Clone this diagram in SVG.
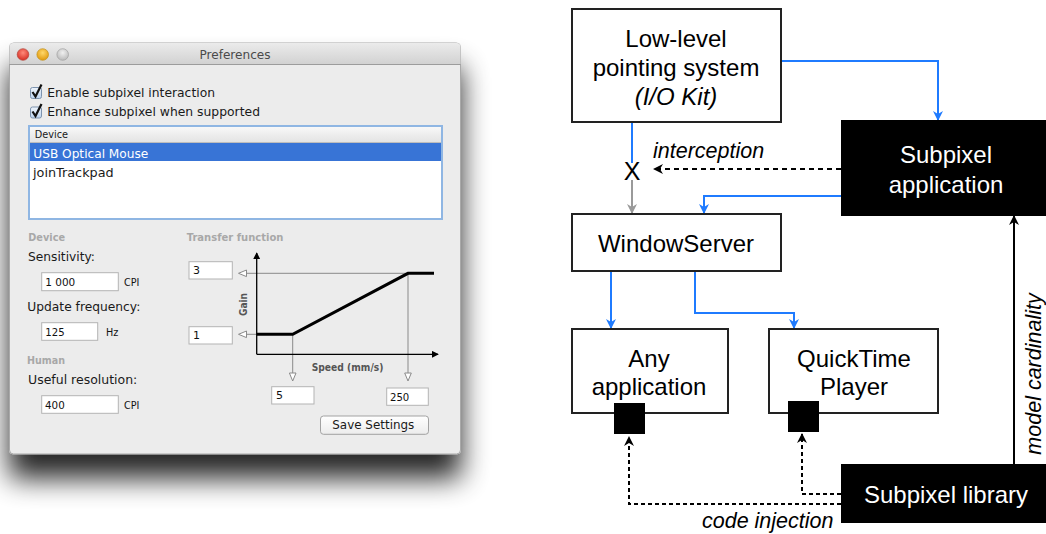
<svg xmlns="http://www.w3.org/2000/svg" width="1046" height="534" viewBox="0 0 1046 534">
<defs>
<style>
.ui{font-family:"DejaVu Sans","Liberation Sans",sans-serif;fill:#1a1a1a}
.sec{font-family:"DejaVu Sans","Liberation Sans",sans-serif;font-weight:bold;font-size:10.5px;fill:#a8a8a8}
.fld{fill:#fff;stroke:#b3b3b3;stroke-width:1}
.ftx{font-family:"DejaVu Sans","Liberation Sans",sans-serif;font-size:11px;fill:#111}
.box{fill:#fff;stroke:#222;stroke-width:2}
.blk{fill:#000;stroke:#000;stroke-width:2}
.lbl{font-family:"Liberation Sans",Arial,sans-serif;font-size:24px;fill:#000;text-anchor:middle}
.it{font-family:"Liberation Sans",Arial,sans-serif;font-size:21.5px;font-style:italic;fill:#000}
.blue{fill:none;stroke:#1f7bff;stroke-width:2}
.gray{fill:none;stroke:#9a9a9a;stroke-width:2}
.dash{fill:none;stroke:#000;stroke-width:2;stroke-dasharray:5 4}
.solid{fill:none;stroke:#000;stroke-width:2}
.gl{fill:none;stroke:#8a8a8a;stroke-width:1}
.tri{fill:#fff;stroke:#8a8a8a;stroke-width:1}
</style>
<marker id="aBlue" viewBox="0 0 10 10" refX="9" refY="5" markerWidth="10" markerHeight="10" markerUnits="userSpaceOnUse" orient="auto"><path d="M0,0 L10,5 L0,10 L3,5 z" fill="#1f7bff"/></marker>
<marker id="aGray" viewBox="0 0 10 10" refX="9" refY="5" markerWidth="10" markerHeight="10" markerUnits="userSpaceOnUse" orient="auto"><path d="M0,0 L10,5 L0,10 L3,5 z" fill="#9a9a9a"/></marker>
<marker id="aBlack" viewBox="0 0 10 10" refX="9" refY="5" markerWidth="10" markerHeight="10" markerUnits="userSpaceOnUse" orient="auto"><path d="M0,0 L10,5 L0,10 L3,5 z" fill="#000"/></marker>
<marker id="aAxis" viewBox="0 0 8 8" refX="7" refY="4" markerWidth="7" markerHeight="7" markerUnits="userSpaceOnUse" orient="auto"><path d="M0,0 L8,4 L0,8 z" fill="#000"/></marker>
<linearGradient id="tb" x1="0" y1="0" x2="0" y2="1"><stop offset="0" stop-color="#ebebeb"/><stop offset="1" stop-color="#d2d2d2"/></linearGradient>
<linearGradient id="hdr" x1="0" y1="0" x2="0" y2="1"><stop offset="0" stop-color="#f8f8f8"/><stop offset="1" stop-color="#e2e2e2"/></linearGradient>
<linearGradient id="btn" x1="0" y1="0" x2="0" y2="1"><stop offset="0" stop-color="#ffffff"/><stop offset="1" stop-color="#ececec"/></linearGradient>
<linearGradient id="chk" x1="0" y1="0" x2="0" y2="1"><stop offset="0" stop-color="#eef4fb"/><stop offset="1" stop-color="#bcd3ee"/></linearGradient>
<radialGradient id="red" cx="0.5" cy="0.35" r="0.6"><stop offset="0" stop-color="#ff8a7a"/><stop offset="1" stop-color="#d9352a"/></radialGradient>
<radialGradient id="yel" cx="0.5" cy="0.35" r="0.6"><stop offset="0" stop-color="#ffd86a"/><stop offset="1" stop-color="#e39d12"/></radialGradient>
<radialGradient id="gry" cx="0.5" cy="0.35" r="0.6"><stop offset="0" stop-color="#f0f0f0"/><stop offset="1" stop-color="#bdbdbd"/></radialGradient>
<filter id="shadow" x="-20%" y="-20%" width="140%" height="150%">
<feGaussianBlur in="SourceAlpha" stdDeviation="14"/>
<feOffset dy="24" result="b"/>
<feComponentTransfer in="b" result="s"><feFuncA type="linear" slope="0.85"/></feComponentTransfer>
<feMerge><feMergeNode in="s"/><feMergeNode in="SourceGraphic"/></feMerge>
</filter>
</defs>
<rect width="1046" height="534" fill="#fff"/>

<!-- Left: Preferences window screenshot -->
<g id="prefs-window">
<rect x="9.5" y="43" width="451" height="411" rx="4" fill="#ececec" stroke="#a9a9a9" filter="url(#shadow)"/>
<path d="M9.5,64 V47 a4,4 0 0 1 4,-4 H456.5 a4,4 0 0 1 4,4 V64 Z" fill="url(#tb)"/>
<line x1="9.5" y1="64.5" x2="460.5" y2="64.5" stroke="#9c9c9c"/>
<circle cx="23" cy="54.5" r="5.8" fill="url(#red)" stroke="#b0443a" stroke-width="0.7"/>
<circle cx="42.7" cy="54.5" r="5.8" fill="url(#yel)" stroke="#c0901c" stroke-width="0.7"/>
<circle cx="62.7" cy="54.5" r="5.8" fill="url(#gry)" stroke="#a0a0a0" stroke-width="0.7"/>
<text x="235" y="58.5" class="ui" font-size="13" text-anchor="middle" style="fill:#4a4a4a" textLength="71" lengthAdjust="spacingAndGlyphs">Preferences</text>

<rect x="30.5" y="87.5" width="11" height="11" rx="2" fill="url(#chk)" stroke="#7d93ae"/>
<path d="M32.5,92 L35.5,96.5 L41.5,84.5" fill="none" stroke="#111" stroke-width="2.2"/>
<text x="47.3" y="96.7" class="ui" font-size="12.3" textLength="167.7" lengthAdjust="spacingAndGlyphs">Enable subpixel interaction</text>
<rect x="30.5" y="107" width="11" height="11" rx="2" fill="url(#chk)" stroke="#7d93ae"/>
<path d="M32.5,111.5 L35.5,116 L41.5,104" fill="none" stroke="#111" stroke-width="2.2"/>
<text x="47.3" y="116.2" class="ui" font-size="12.3" textLength="212.7" lengthAdjust="spacingAndGlyphs">Enhance subpixel when supported</text>

<rect x="29" y="126" width="413" height="93" fill="#fff" stroke="#8fb6e3" stroke-width="2"/>
<rect x="30" y="127" width="411" height="16" fill="url(#hdr)"/>
<line x1="30" y1="142.5" x2="441" y2="142.5" stroke="#bdbdbd"/>
<text x="34.7" y="137.7" class="ui" font-size="11" textLength="33.3" lengthAdjust="spacingAndGlyphs">Device</text>
<rect x="30" y="143" width="411" height="18" fill="#3874d6"/>
<text x="33.3" y="157.7" class="ui" font-size="12.3" style="fill:#fff" textLength="115" lengthAdjust="spacingAndGlyphs">USB Optical Mouse</text>
<text x="33" y="176.7" class="ui" font-size="12.3" textLength="80.7" lengthAdjust="spacingAndGlyphs">joinTrackpad</text>

<text x="28.3" y="240.5" class="sec" textLength="36.7" lengthAdjust="spacingAndGlyphs">Device</text>
<text x="186.7" y="240.5" class="sec" textLength="96.7" lengthAdjust="spacingAndGlyphs">Transfer function</text>
<text x="28" y="261" class="ui" font-size="12.5" textLength="67" lengthAdjust="spacingAndGlyphs">Sensitivity:</text>
<rect x="41.7" y="272.7" width="76.6" height="18" class="fld"/>
<text x="45.3" y="285.5" class="ftx" textLength="30" lengthAdjust="spacingAndGlyphs">1 000</text>
<text x="124" y="285.5" class="ftx" textLength="15.3" lengthAdjust="spacingAndGlyphs">CPI</text>
<text x="27.3" y="311" class="ui" font-size="12.5" textLength="113" lengthAdjust="spacingAndGlyphs">Update frequency:</text>
<rect x="41.7" y="322.7" width="56" height="17.6" class="fld"/>
<text x="45.3" y="335.5" class="ftx" textLength="19.3" lengthAdjust="spacingAndGlyphs">125</text>
<text x="106" y="335.5" class="ftx" textLength="12.3" lengthAdjust="spacingAndGlyphs">Hz</text>
<text x="27" y="364" class="sec" textLength="38" lengthAdjust="spacingAndGlyphs">Human</text>
<text x="28" y="384" class="ui" font-size="12.5" textLength="109.3" lengthAdjust="spacingAndGlyphs">Useful resolution:</text>
<rect x="41.7" y="395.7" width="76.6" height="17.6" class="fld"/>
<text x="45" y="408.5" class="ftx" textLength="19.7" lengthAdjust="spacingAndGlyphs">400</text>
<text x="124" y="408.5" class="ftx" textLength="15.3" lengthAdjust="spacingAndGlyphs">CPI</text>

<!-- transfer function graph -->
<rect x="189" y="261.7" width="43.3" height="17.3" class="fld"/>
<text x="193" y="274.3" class="ftx">3</text>
<rect x="189" y="326.7" width="43.3" height="17.3" class="fld"/>
<text x="193" y="339.3" class="ftx">1</text>
<line x1="408" y1="273.3" x2="246" y2="273.3" class="gl"/>
<path d="M238.5,273.3 L246.5,270 L246.5,276.6 Z" class="tri"/>
<line x1="292.7" y1="334.3" x2="246" y2="334.3" class="gl"/>
<path d="M238.5,334.3 L246.5,331 L246.5,337.6 Z" class="tri"/>
<line x1="292.7" y1="334.3" x2="292.7" y2="373" class="gl"/>
<path d="M292.7,381 L289.4,373 L296,373 Z" class="tri"/>
<line x1="408" y1="273.3" x2="408" y2="373" class="gl"/>
<path d="M408,381 L404.7,373 L411.3,373 Z" class="tri"/>
<line x1="256.7" y1="354.3" x2="256.7" y2="253" stroke="#000" stroke-width="1.3" marker-end="url(#aAxis)"/>
<line x1="256.7" y1="354.3" x2="438" y2="354.3" stroke="#000" stroke-width="1.3" marker-end="url(#aAxis)"/>
<polyline points="256.7,334.3 292.7,334.3 408,273.3 434,273.3" fill="none" stroke="#000" stroke-width="3"/>
<text transform="translate(246.5,304.5) rotate(-90)" class="ui" font-size="10" text-anchor="middle" style="fill:#555;font-weight:600" textLength="23" lengthAdjust="spacingAndGlyphs">Gain</text>
<text x="311.7" y="370.7" class="ui" font-size="10" style="fill:#555;font-weight:600" textLength="71.7" lengthAdjust="spacingAndGlyphs">Speed (mm/s)</text>
<rect x="271.7" y="386.7" width="42.3" height="17.3" class="fld"/>
<text x="276" y="399.3" class="ftx">5</text>
<rect x="386.7" y="388" width="41.6" height="17.3" class="fld"/>
<text x="390" y="400.7" class="ftx" textLength="19.3" lengthAdjust="spacingAndGlyphs">250</text>
<rect x="320.5" y="416" width="108" height="18.3" rx="3" fill="url(#btn)" stroke="#a2a2a2"/>
<text x="332.3" y="429.3" class="ui" font-size="12.5" textLength="82" lengthAdjust="spacingAndGlyphs">Save Settings</text>
</g>

<!-- Right: architecture diagram -->
<g id="connectors">
<polyline points="781,61 938,61 938,120" class="blue" marker-end="url(#aBlue)"/>
<line x1="632" y1="122" x2="632" y2="163" class="blue"/>
<line x1="632" y1="180" x2="632" y2="213" class="gray" marker-end="url(#aGray)"/>
<line x1="841" y1="169" x2="654" y2="169" class="dash" marker-end="url(#aBlack)"/>
<polyline points="841,196 704,196 704,213" class="blue" marker-end="url(#aBlue)"/>
<line x1="611" y1="271" x2="611" y2="328" class="blue" marker-end="url(#aBlue)"/>
<polyline points="695,271 695,313 794,313 794,328" class="blue" marker-end="url(#aBlue)"/>
<line x1="1014" y1="465" x2="1014" y2="216" class="solid" marker-end="url(#aBlack)"/>
<polyline points="841,504 629,504 629,437" class="dash" style="stroke-dasharray:4 3" marker-end="url(#aBlack)"/>
<polyline points="841,494 802,494 802,434" class="dash" style="stroke-dasharray:4 3" marker-end="url(#aBlack)"/>
<text x="632" y="180" font-family="Liberation Sans, Arial, sans-serif" font-size="25" text-anchor="middle">X</text>
<text x="653" y="158" class="it">interception</text>
<text x="702" y="528" class="it">code injection</text>
<text transform="translate(1041,374) rotate(-90)" class="it" text-anchor="middle">model cardinality</text>
</g>

<g id="low-level">
<rect x="572" y="9" width="209" height="113" class="box"/>
<text x="676" y="47" class="lbl">Low-level</text>
<text x="676" y="76" class="lbl">pointing system</text>
<text x="676" y="105" class="lbl" font-style="italic">(I/O Kit)</text>
</g>
<g id="subpixel-application">
<rect x="842" y="121" width="210" height="94" class="blk"/>
<text x="946" y="163" class="lbl" style="fill:#fff">Subpixel</text>
<text x="946" y="193" class="lbl" style="fill:#fff">application</text>
</g>
<g id="windowserver">
<rect x="572" y="214" width="209" height="57" class="box"/>
<text x="676" y="252" class="lbl">WindowServer</text>
</g>
<g id="any-application">
<rect x="572" y="329" width="156" height="84" class="box"/>
<text x="649" y="367" class="lbl">Any</text>
<text x="649" y="395" class="lbl">application</text>
<rect x="614" y="403" width="31" height="31" fill="#000"/>
</g>
<g id="quicktime-player">
<rect x="769" y="329" width="169" height="84" class="box"/>
<text x="854" y="367" class="lbl">QuickTime</text>
<text x="854" y="395" class="lbl">Player</text>
<rect x="788" y="401" width="31" height="31" fill="#000"/>
</g>
<g id="subpixel-library">
<rect x="842" y="465" width="210" height="57" class="blk"/>
<text x="946" y="503" class="lbl" style="fill:#fff">Subpixel library</text>
</g>
</svg>
